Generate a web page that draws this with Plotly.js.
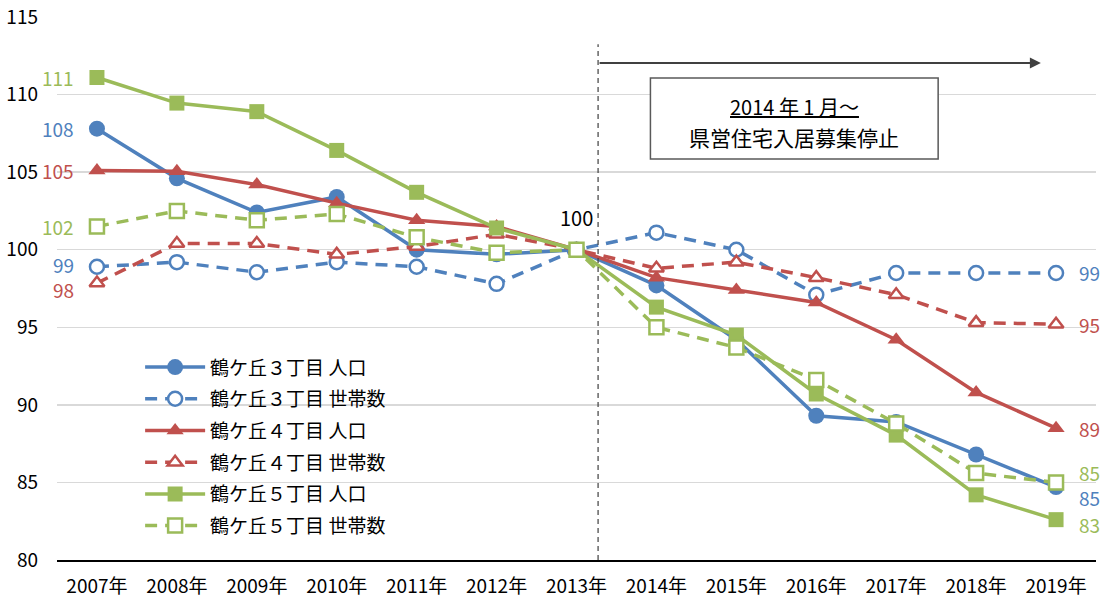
<!DOCTYPE html>
<html>
<head>
<meta charset="utf-8">
<script src="https://cdn.plot.ly/plotly-3.0.1.min.js"></script>
<style>html,body{margin:0;padding:0;background:#fff;}#chart{width:1106px;height:603px;}</style>
</head>
<body>
<div id="chart"></div>
<script>
const years = ["2007年","2008年","2009年","2010年","2011年","2012年","2013年","2014年","2015年","2016年","2017年","2018年","2019年"];
const pop3 = [107.8,104.6,102.4,103.4,100.0,99.7,100,97.7,94.2,89.3,88.9,86.8,84.7];
const hh3  = [98.9,99.2,98.55,99.2,98.9,97.8,100,101.1,100.0,97.1,98.5,98.5,98.5];
const pop4 = [105.1,105.05,104.2,103.0,101.9,101.5,100,98.2,97.4,96.6,94.2,90.8,88.5];
const hh4  = [97.85,100.4,100.4,99.7,100.2,101.0,100,98.8,99.2,98.2,97.1,95.3,95.2];
const pop5 = [111.1,109.45,108.9,106.4,103.7,101.4,100,96.3,94.5,90.7,88.05,84.2,82.6];
const hh5  = [101.5,102.5,101.9,102.3,100.8,99.8,100,95.0,93.7,91.6,88.8,85.6,85.0];
const names = ["鶴ケ丘３丁目 人口","鶴ケ丘３丁目 世帯数","鶴ケ丘４丁目 人口","鶴ケ丘４丁目 世帯数","鶴ケ丘５丁目 人口","鶴ケ丘５丁目 世帯数"];
const boxLine1 = "2014 年 1 月～";
const boxLine2 = "県営住宅入居募集停止";

const BLUE = "#4f81bd", RED = "#c0504d", GREEN = "#9bbb59";
const FONT = "Noto Sans CJK JP, Noto Sans, sans-serif";

function tr(y, name, color, dashed, symbol, group) {
  return {
    x: years, y: y, name: name, type: "scatter", mode: "lines+markers",
    legendgroup: group,
    line: {color: color, width: 3.5, dash: dashed ? "12px,8px" : "solid"},
    marker: dashed
      ? {symbol: symbol, size: symbol === "triangle-up" ? 13 : 14, color: "#ffffff", line: {color: color, width: 2.5}}
      : {symbol: symbol, size: symbol === "triangle-up" ? 15 : (symbol === "square" ? 15 : 16), color: color, line: {width: 0}}
  };
}

const data = [
  tr(pop3, names[0], BLUE, false, "circle", "g1"),
  tr(hh3, names[1], BLUE, true, "circle", "g2"),
  tr(pop4, names[2], RED, false, "triangle-up", "g3"),
  tr(hh4, names[3], RED, true, "triangle-up", "g4"),
  tr(pop5, names[4], GREEN, false, "square", "g5"),
  tr(hh5, names[5], GREEN, true, "square", "g6")
];

function lab(x, y, val, color, side, yshift) {
  return {
    x: x, y: y, text: String(Math.round(val)), showarrow: false,
    xanchor: side === "left" ? "right" : "left",
    xshift: side === "left" ? -21 : 21, yshift: yshift || 0,
    font: {family: FONT, size: 19, color: color}
  };
}
const L = 0, R = years.length - 1;
const annotations = [
  lab(years[L], pop5[L], pop5[L], GREEN, "left"),
  lab(years[L], pop3[L], pop3[L], BLUE, "left"),
  lab(years[L], pop4[L], pop4[L], RED, "left"),
  lab(years[L], hh5[L], hh5[L], GREEN, "left"),
  lab(years[L], hh3[L], hh3[L], BLUE, "left", 2),
  lab(years[L], hh4[L], hh4[L], RED, "left", -6),
  lab(years[R], hh3[R], hh3[R], BLUE, "right"),
  lab(years[R], hh4[R], hh4[R], RED, "right"),
  lab(years[R], pop4[R], pop4[R], RED, "right"),
  lab(years[R], hh5[R], hh5[R], GREEN, "right", 10),
  lab(years[R], pop3[R], pop3[R], BLUE, "right", -10),
  lab(years[R], pop5[R], pop5[R], GREEN, "right", -5),
  {x: years[6], y: pop3[6], text: String(pop3[6]), showarrow: false, yshift: 32,
   font: {family: FONT, size: 20, color: "#000"}},
  {x: 11.81, y: 112.03, ax: 6.27, ay: 112.03, axref: "x", ayref: "y", xref: "x", yref: "y",
   text: "", showarrow: true, arrowhead: 2, arrowsize: 1.1, arrowwidth: 2, arrowcolor: "#404040"},
  {x: 8.725, y: 109.25, text: "<u>" + boxLine1 + "</u>", showarrow: false,
   font: {family: FONT, size: 20, color: "#000"}},
  {x: 8.725, y: 107.25, text: boxLine2, showarrow: false,
   font: {family: FONT, size: 21, color: "#000"}}
];

const shapes = [
  {type: "line", xref: "x", yref: "paper", x0: 6.27, x1: 6.27, y0: 0, y1: 0.95,
   line: {color: "#404040", width: 1.2, dash: "5px,4px"}},
  {type: "rect", xref: "x", yref: "y", x0: 6.925, x1: 10.525, y0: 105.84, y1: 111.07,
   line: {color: "#595959", width: 1.5}, fillcolor: "#ffffff", layer: "above"}
];

const layout = {
  width: 1106, height: 603,
  margin: {l: 57, r: 10, t: 17, b: 43},
  paper_bgcolor: "#ffffff", plot_bgcolor: "#ffffff",
  font: {family: FONT, size: 19, color: "#000"},
  showlegend: true,
  legend: {x: 0.08, y: 0.39, xanchor: "left", yanchor: "top",
    bgcolor: "rgba(0,0,0,0)", font: {family: FONT, size: 19, color: "#000"},
    tracegroupgap: 4, itemwidth: 60},
  xaxis: {type: "category", range: [-0.5, 12.5], showgrid: false, showline: true,
    linecolor: "#000", linewidth: 1.5, ticks: "", ticklabelstandoff: 9,
    tickfont: {family: FONT, size: 19}, fixedrange: true},
  yaxis: {range: [80, 115], dtick: 5, tick0: 80, showgrid: true, gridcolor: "#d9d9d9", gridwidth: 1.5,
    zeroline: false, showline: false, ticks: "", ticklabelstandoff: 18,
    tickfont: {family: FONT, size: 19}, fixedrange: true},
  shapes: shapes,
  annotations: annotations
};

Plotly.newPlot("chart", data, layout, {displayModeBar: false, staticPlot: true});
</script>
</body>
</html>
